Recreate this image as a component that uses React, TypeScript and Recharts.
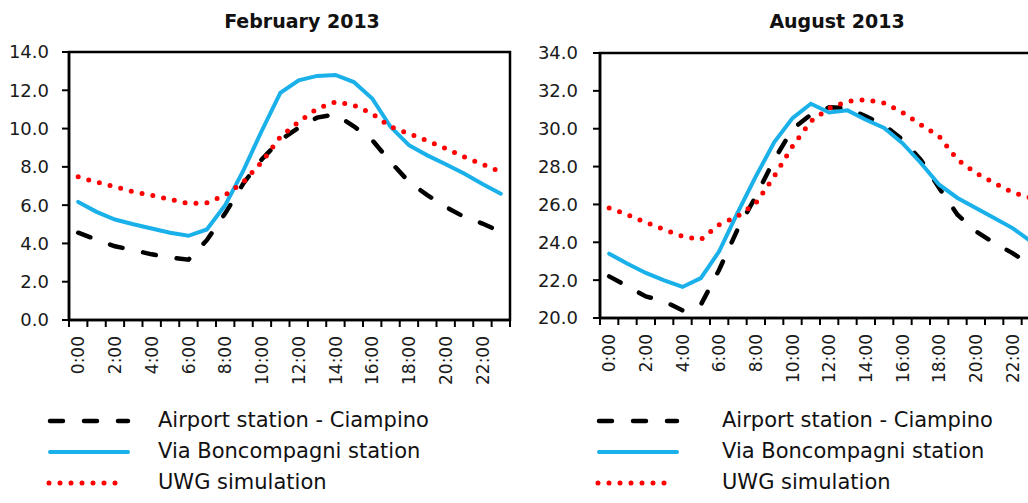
import { LineChart, Line, XAxis, YAxis, ReferenceArea } from "recharts";

const hours = [
  "0:00", "1:00", "2:00", "3:00", "4:00", "5:00", "6:00", "7:00",
  "8:00", "9:00", "10:00", "11:00", "12:00", "13:00", "14:00", "15:00",
  "16:00", "17:00", "18:00", "19:00", "20:00", "21:00", "22:00", "23:00",
];

// February 2013
const febAirport = [4.56, 4.2, 3.85, 3.65, 3.43, 3.27, 3.15, 4.17, 5.57, 7.15, 8.4, 9.4, 10.05, 10.57, 10.75, 10.12, 9.4, 8.26, 7.22, 6.52, 5.91, 5.39, 5.04, 4.6];
const febVia = [6.17, 5.65, 5.25, 5.0, 4.78, 4.56, 4.4, 4.73, 6.0, 7.83, 9.9, 11.86, 12.52, 12.75, 12.8, 12.43, 11.57, 10.09, 9.13, 8.6, 8.14, 7.65, 7.1, 6.6];
const febUwg = [7.48, 7.2, 6.96, 6.7, 6.52, 6.3, 6.09, 6.12, 6.52, 7.22, 8.26, 9.57, 10.35, 11.04, 11.39, 11.22, 10.78, 10.09, 9.74, 9.36, 8.96, 8.52, 8.14, 7.74];

// August 2013
const augAirport = [22.2, 21.67, 21.14, 20.88, 20.4, 20.7, 22.55, 24.67, 26.43, 28.36, 29.98, 30.74, 31.13, 31.09, 30.65, 30.2, 29.42, 28.36, 26.87, 25.46, 24.58, 23.96, 23.43, 22.8];
const augVia = [23.4, 22.87, 22.38, 21.99, 21.64, 22.11, 23.52, 25.55, 27.48, 29.28, 30.56, 31.32, 30.86, 30.97, 30.47, 30.04, 29.24, 28.19, 27.04, 26.34, 25.81, 25.28, 24.75, 24.05];
const augUwg = [25.81, 25.46, 25.05, 24.67, 24.31, 24.14, 24.93, 25.37, 26.07, 27.48, 29.07, 30.39, 31.09, 31.44, 31.53, 31.36, 30.86, 30.21, 29.6, 28.36, 27.66, 27.13, 26.64, 26.34];

const febTicks = [0, 2, 4, 6, 8, 10, 12, 14];
const augTicks = [20, 22, 24, 26, 28, 30, 32, 34];

const series = [
  { key: "airport", name: "Airport station - Ciampino", stroke: "#000000", width: 4.5, dash: "13 21" },
  { key: "via", name: "Via Boncompagni station", stroke: "#1ab0ea", width: 4, dash: undefined },
  { key: "uwg", name: "UWG simulation", stroke: "#ff0000", width: 5, dash: "0 11" },
];

const FONT = "'DejaVu Sans', sans-serif";
const CHART_W = 530;
const CHART_H = 400;
const RIGHT_M = 20;

function buildRows(a: number[], v: number[], u: number[]) {
  return hours.map((h, i) => ({ x: i + 0.5, hour: h, airport: a[i], via: v[i], uwg: u[i] }));
}

// tick marks on every hour boundary, labels every two hours in the middle of the slot
const markTicks = Array.from({ length: 25 }, (_, i) => i);

function HourTick(props: any) {
  const { x, y, payload, step } = props;
  const v = payload.value;
  if (v % 2 !== 0 || v >= hours.length) return <g />;
  const cx = x + step / 2;
  return (
    <text
      x={cx}
      y={y}
      transform={`rotate(-90, ${cx}, ${y})`}
      textAnchor="end"
      dy="0.36em"
      fontSize={17}
      fontFamily={FONT}
      fill="#1a1a1a"
    >
      {hours[v]}
    </text>
  );
}

type PanelProps = {
  title: string;
  rows: ReturnType<typeof buildRows>;
  domain: [number, number];
  ticks: number[];
  left: number;
  top: number;
  bottom: number;
  yWidth: number;
  yGap: number;
  titleX: number;
  legendX: number;
  textX: number;
};

function Legend({ legendX, textX }: { legendX: number; textX: number }) {
  const rowsY = [410, 441, 472];
  return (
    <>
      {series.map((s, i) => (
        <div key={s.key}>
          <svg
            width={90}
            height={12}
            style={{ position: "absolute", left: legendX - 5, top: rowsY[i] + 5 }}
          >
            <line
              x1={s.dash === "0 11" ? 6 : 7}
              x2={s.dash === "0 11" ? 80 : 85}
              y1={6}
              y2={6}
              stroke={s.stroke}
              strokeWidth={s.width}
              strokeDasharray={s.dash}
              strokeLinecap="round"
            />
          </svg>
          <div
            style={{
              position: "absolute",
              left: textX,
              top: rowsY[i],
              fontFamily: FONT,
              fontSize: 21,
              lineHeight: "21px",
              color: "#111",
              whiteSpace: "nowrap",
            }}
          >
            {s.name}
          </div>
        </div>
      ))}
    </>
  );
}

function Panel(p: PanelProps) {
  const axisStyle = { stroke: "#000", strokeWidth: 2.5 };
  const step = (CHART_W - p.yWidth - RIGHT_M) / hours.length;
  return (
    <>
      <div
        style={{
          position: "absolute",
          left: p.titleX - 150,
          width: 300,
          top: 12,
          textAlign: "center",
          fontFamily: FONT,
          fontWeight: "bold",
          fontSize: 19,
          lineHeight: "19px",
          color: "#111",
        }}
      >
        {p.title}
      </div>
      <div style={{ position: "absolute", left: p.left, top: 0 }}>
        <LineChart
          width={CHART_W}
          height={CHART_H}
          data={p.rows}
          margin={{ top: p.top, right: RIGHT_M, left: 0, bottom: CHART_H - 70 - p.bottom }}
        >
          <XAxis
            type="number"
            dataKey="x"
            domain={[0, 24]}
            ticks={markTicks}
            interval={0}
            height={70}
            tickSize={7}
            tickMargin={9}
            tickLine={{ stroke: "#000", strokeWidth: 2 }}
            axisLine={axisStyle}
            tick={(props: any) => <HourTick {...props} step={step} />}
            allowDataOverflow
          />
          <YAxis
            domain={p.domain}
            ticks={p.ticks}
            interval={0}
            width={p.yWidth}
            tickSize={7}
            tickMargin={p.yGap}
            tickFormatter={(v: number) => v.toFixed(1)}
            tick={{ fontSize: 18, fontFamily: FONT, fill: "#1a1a1a" }}
            tickLine={{ stroke: "#000", strokeWidth: 2 }}
            axisLine={axisStyle}
            allowDataOverflow
          />
          <ReferenceArea
            x1={0}
            x2={24}
            y1={p.domain[0]}
            y2={p.domain[1]}
            fill="none"
            stroke="#000"
            strokeWidth={2.5}
            fillOpacity={0}
          />
          {series.map((s) => (
            <Line
              key={s.key}
              dataKey={s.key}
              name={s.name}
              type="linear"
              stroke={s.stroke}
              strokeWidth={s.width}
              strokeDasharray={s.dash}
              strokeLinecap="round"
              dot={false}
              activeDot={false}
              isAnimationActive={false}
            />
          ))}
        </LineChart>
      </div>
      <Legend legendX={p.legendX} textX={p.textX} />
    </>
  );
}

export default function App() {
  return (
    <div
      style={{
        position: "fixed",
        left: 0,
        top: 0,
        width: 1028,
        height: 503,
        overflow: "hidden",
        background: "#fff",
      }}
    >
      <Panel
        title="February 2013"
        rows={buildRows(febAirport, febVia, febUwg)}
        domain={[0, 14]}
        ticks={febTicks}
        left={0}
        top={52}
        bottom={320}
        yWidth={69}
        yGap={13}
        titleX={302}
        legendX={48}
        textX={158}
      />
      <Panel
        title="August 2013"
        rows={buildRows(augAirport, augVia, augUwg)}
        domain={[20, 34]}
        ticks={augTicks}
        left={530}
        top={53}
        bottom={318}
        yWidth={70}
        yGap={15}
        titleX={837}
        legendX={597}
        textX={722}
      />
    </div>
  );
}
